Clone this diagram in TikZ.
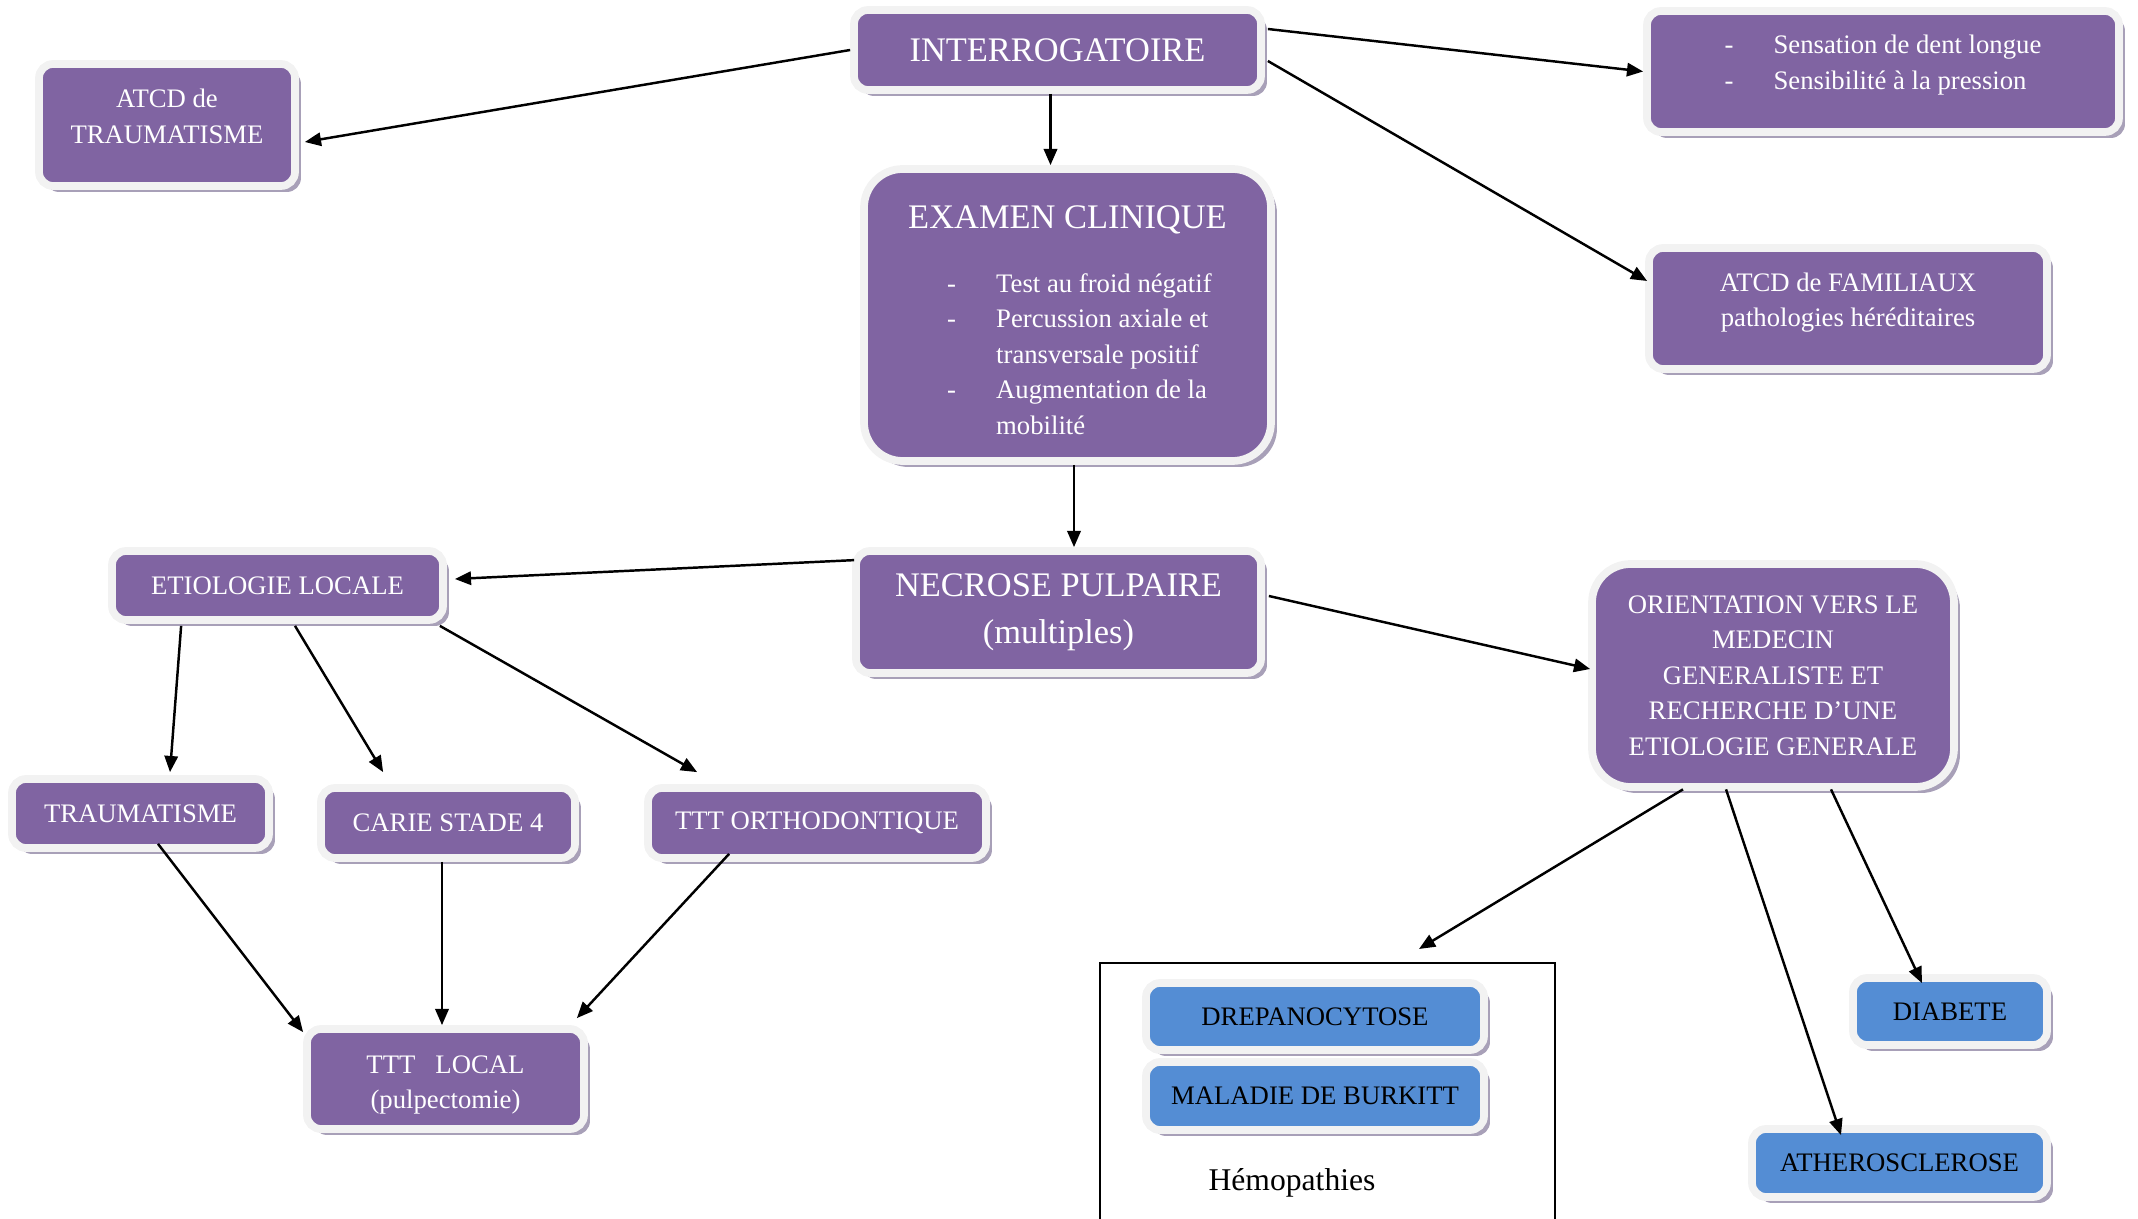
\documentclass[tikz,border=0pt]{standalone}
\usepackage{fontspec}
\setmainfont{Liberation Serif}
\usetikzlibrary{arrows.meta,calc,shadows}
\definecolor{boxpurple}{RGB}{128,100,162}
\definecolor{boxblue}{RGB}{84,141,212}
\definecolor{boxrim}{RGB}{242,242,242}
\definecolor{boxshade}{RGB}{168,160,184}
\begin{document}
\begin{tikzpicture}[
  box/.style={draw=boxrim, line width=2.2pt, fill=boxpurple, text=white, rounded corners=4pt,
    align=center, inner sep=1pt, font=\fontsize{7.6}{10.1}\selectfont,
    drop shadow={shadow xshift=1.7pt, shadow yshift=-1.7pt, fill=boxshade, opacity=1}},
  bigbox/.style={box, rounded corners=11pt},
  bluebox/.style={box, fill=boxblue, text=black},
  big/.style={font=\fontsize{9.8}{13.4}\selectfont},
  arr/.style={-{Triangle[length=4.6pt,width=3.8pt]}, line width=0.7pt}]
  \useasboundingbox (0,0) rectangle (21.38,-12.19);
  \node[box, big, minimum width=4.07cm, minimum height=0.80cm] (interro) at (10.575,-0.50) {INTERROGATOIRE};
  \node[box, minimum width=2.56cm, minimum height=1.22cm] (atcdtr) at (1.67,-1.25)
    {\begin{tabular}[t]{@{}c@{}}ATCD de\\TRAUMATISME\\[3.7pt]\end{tabular}};
  \node[box, minimum width=4.72cm, minimum height=1.21cm] (sensation) at (18.83,-0.715)
    {\begin{tabular}[t]{@{}l@{\hspace{11.4pt}}l@{}}-&Sensation de dent longue\\-&Sensibilité à la pression\\[4.1pt]\end{tabular}};
  \node[box, minimum width=3.98cm, minimum height=1.21cm] (famil) at (18.48,-3.085)
    {\begin{tabular}[t]{@{}c@{}}ATCD de FAMILIAUX\\pathologies héréditaires\\[3.7pt]\end{tabular}};
  \node[bigbox, minimum width=4.07cm, minimum height=2.92cm] (examen) at (10.675,-3.15)
    {{\fontsize{9.8}{13.4}\selectfont\rule{0pt}{12.3pt}EXAMEN CLINIQUE}\\[8pt]
     \begin{tabular}[t]{@{\hspace{6.8pt}}l@{\hspace{11.4pt}}l@{}}-&Test au froid négatif\\-&Percussion axiale et\\&transversale positif\\-&Augmentation de la\\&mobilité\end{tabular}};
  \node[box, big, minimum width=4.05cm, minimum height=1.22cm] (necrose) at (10.585,-6.12) {NECROSE PULPAIRE\\(multiples)};
  \node[box, minimum width=3.31cm, minimum height=0.69cm] (etiol) at (2.775,-5.855) {ETIOLOGIE LOCALE};
  \node[bigbox, minimum width=3.62cm, minimum height=2.23cm] (orient) at (17.73,-6.755)
    {ORIENTATION VERS LE\\MEDECIN\\GENERALISTE ET\\RECHERCHE D’UNE\\ETIOLOGIE GENERALE};
  \node[box, minimum width=2.57cm, minimum height=0.69cm] (trauma) at (1.405,-8.135) {TRAUMATISME};
  \node[box, minimum width=2.54cm, minimum height=0.70cm] (carie) at (4.48,-8.23) {CARIE STADE 4};
  \node[box, minimum width=3.38cm, minimum height=0.70cm] (ortho) at (8.17,-8.23) {TTT ORTHODONTIQUE};
  \node[box, minimum width=2.77cm, minimum height=1.00cm] (tttlocal) at (4.455,-10.79)
    {\rule{0pt}{8.5pt}TTT\ \ \ LOCAL\\(pulpectomie)};
  \node[draw, line width=0.7pt, minimum width=4.55cm, minimum height=4cm, anchor=north] (hemogroup) at (13.275,-9.62) {};
  \node[bluebox, minimum width=3.38cm, minimum height=0.67cm] (drepano) at (13.15,-10.165) {DREPANOCYTOSE};
  \node[bluebox, minimum width=3.38cm, minimum height=0.68cm] (burkitt) at (13.15,-10.96) {MALADIE DE BURKITT};
  \node[font=\fontsize{9}{11}\selectfont] (hemolabel) at (12.92,-11.83) {Hémopathies};
  \node[bluebox, minimum width=1.94cm, minimum height=0.67cm] (diabete) at (19.50,-10.115) {DIABETE};
  \node[bluebox, minimum width=2.95cm, minimum height=0.68cm] (athero) at (18.995,-11.63) {ATHEROSCLEROSE};
  \draw[arr] (interro.west) -- ($(atcdtr.east)+(0.06,-0.17)$);
  \draw[arr] ($(interro.east)+(0.03,0.21)$) -- (sensation.west);
  \draw[arr] ($(interro.east)+(0.03,-0.11)$) -- ($(famil.west)+(0.02,0.275)$);
  \draw[arr] ([xshift=-0.07cm]interro.south) -- ([xshift=-0.07cm]interro.south |- examen.north);
  \draw[arr] ([xshift=0.065cm]examen.south) -- ([xshift=0.065cm]examen.south |- necrose.north);
  \draw[arr] ($(necrose.north west)+(0.02,-0.13)$) -- ($(etiol.east)+(0.08,0.065)$);
  \draw[arr] ($(necrose.east)+(0.04,0.16)$) -- ($(orient.west)+(0.02,0.065)$);
  \draw[arr] ($(etiol.south west)+(0.73,-0.02)$) -- ($(trauma.north)+(0.295,0.03)$);
  \draw[arr] ($(etiol.south)+(0.175,-0.02)$) -- ($(carie.north west)+(0.66,0.12)$);
  \draw[arr] ($(etiol.south east)+(-0.07,-0.02)$) -- ($(ortho.north west)+(0.53,0.12)$);
  \draw[arr] ($(trauma.south)+(0.175,0.08)$) -- ($(tttlocal.north west)+(0,-0.07)$);
  \draw[arr] ([xshift=-0.06cm]carie.south) -- ([xshift=-0.06cm]carie.south |- tttlocal.north);
  \draw[arr] ($(ortho.south west)+(0.85,0.08)$) -- ($(tttlocal.north east)+(-0.11,0.07)$);
  \draw[arr] ($(orient.south)+(-0.90,0.015)$) -- ($(hemogroup.north)+(0.915,0.13)$);
  \draw[arr] ($(orient.south)+(-0.47,0.015)$) -- ($(athero.north)+(-0.585,-0.10)$);
  \draw[arr] ($(orient.south)+(0.58,0.015)$) -- ($(diabete.north)+(-0.28,-0.09)$);
\end{tikzpicture}
\end{document}
